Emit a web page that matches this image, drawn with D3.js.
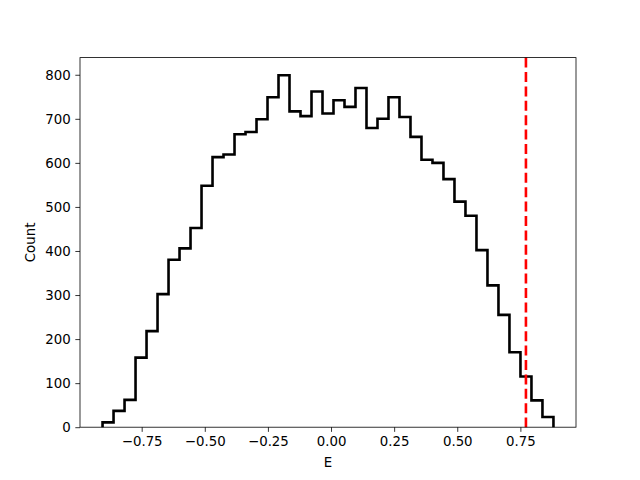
<!DOCTYPE html>
<html>
<head>
<meta charset="utf-8">
<script src="https://d3js.org/d3.v7.min.js"></script>
<style>
  body { margin: 0; background: #fff; }
  svg text { font-family: "DejaVu Sans", sans-serif; font-size: 13.33px; fill: #000; }
</style>
</head>
<body>
<div id="chart"></div>
<script>
// histogram counts (41 equal bins)
const counts = [11, 37, 62, 158, 218, 302, 380, 406, 452, 548, 613, 619, 665, 670,
                699, 749, 799, 717, 706, 762, 712, 742, 727, 770, 679, 700, 749, 704,
                659, 607, 600, 563, 512, 480, 402, 322, 255, 170, 115, 61, 23];
const histRange = [-0.905, 0.881];   // first / last bin edge
const threshold = 0.772;             // red dashed marker
const xTicks = [-0.75, -0.5, -0.25, 0, 0.25, 0.5, 0.75];
const yTicks = [0, 100, 200, 300, 400, 500, 600, 700, 800];

const W = 640, H = 480;
const margin = { left: 80, right: 64, top: 57.6, bottom: 52.8 };

const svg = d3.select("#chart").append("svg")
    .attr("width", W)
    .attr("height", H);

// bin edges
const binW = (histRange[1] - histRange[0]) / counts.length;
const edges = d3.range(counts.length + 1).map(i => histRange[0] + i * binW);

// matplotlib style 5% margins
const span = histRange[1] - histRange[0];
const x = d3.scaleLinear()
    .domain([histRange[0] - 0.05 * span, histRange[1] + 0.05 * span])
    .range([margin.left, W - margin.right]);
const y = d3.scaleLinear()
    .domain([0, d3.max(counts) * 1.05])
    .range([H - margin.bottom, margin.top]);

// step outline points
const pts = [[edges[0], 0]];
counts.forEach((c, i) => {
    pts.push([edges[i], c]);
    pts.push([edges[i + 1], c]);
});
pts.push([edges[counts.length], 0]);

const line = d3.line().x(d => x(d[0])).y(d => y(d[1]));

svg.append("path")
    .attr("d", line(pts))
    .attr("fill", "none")
    .attr("stroke", "#000")
    .attr("stroke-width", 2.6)
    .attr("stroke-linejoin", "miter");

// vertical marker
svg.append("line")
    .attr("x1", x(threshold)).attr("x2", x(threshold))
    .attr("y1", y.range()[1]).attr("y2", y.range()[0])
    .attr("stroke", "#ff0000")
    .attr("stroke-width", 2.6)
    .attr("stroke-dasharray", "10,4.4");

// axes
const fmt = d => (d < 0 ? "\u2212" : "") + Math.abs(d).toFixed(2);

const xAxis = svg.append("g")
    .attr("transform", `translate(0,${H - margin.bottom})`)
    .call(d3.axisBottom(x).tickValues(xTicks).tickFormat(fmt).tickSizeInner(4.67).tickSizeOuter(0).tickPadding(4.6));

const yAxis = svg.append("g")
    .attr("transform", `translate(${margin.left},0)`)
    .call(d3.axisLeft(y).tickValues(yTicks).tickSizeInner(4.67).tickSizeOuter(0).tickPadding(4.6));

[xAxis, yAxis].forEach(g => {
    g.select(".domain").remove();
    g.selectAll(".tick line").attr("stroke", "#000").attr("stroke-width", 0.8);
    g.selectAll(".tick text").attr("font-size", null).attr("font-family", null);
});

// frame
svg.append("rect")
    .attr("x", margin.left)
    .attr("y", margin.top)
    .attr("width", W - margin.left - margin.right)
    .attr("height", H - margin.top - margin.bottom)
    .attr("fill", "none")
    .attr("stroke", "#000")
    .attr("stroke-width", 0.8);

// labels
svg.append("text")
    .attr("x", (margin.left + W - margin.right) / 2)
    .attr("y", 466.7)
    .attr("text-anchor", "middle")
    .text("E");

svg.append("text")
    .attr("transform", `translate(35,${(margin.top + H - margin.bottom) / 2}) rotate(-90)`)
    .attr("text-anchor", "middle")
    .text("Count");
</script>
</body>
</html>
